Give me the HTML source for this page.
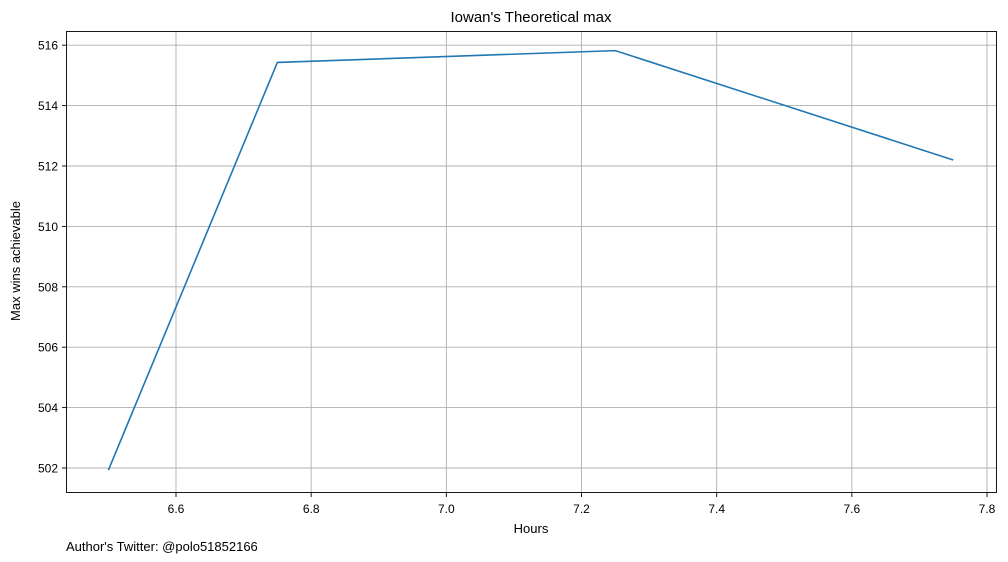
<!DOCTYPE html>
<html><head><meta charset="utf-8"><style>
body{margin:0;background:#fff;}
svg{display:block;font-family:"Liberation Sans","DejaVu Sans",sans-serif;}
</style></head><body>
<svg id="chart" width="1008" height="562" viewBox="0 0 1008 562" xmlns="http://www.w3.org/2000/svg">
<rect width="1008" height="562" fill="#fff"/>
<text x="531" y="22" font-size="15" text-anchor="middle">Iowan's Theoretical max</text>
<g id="grid"></g>
<g id="ticks"></g>
<polyline id="line" fill="none" stroke="#1f77b4" stroke-width="1.6"/>
<rect x="66.5" y="31.5" width="930" height="461" fill="none" stroke="#000" stroke-width="0.9"/>
<text x="531" y="533" font-size="13" text-anchor="middle">Hours</text>
<text transform="translate(20,261) rotate(-90)" font-size="13" text-anchor="middle">Max wins achievable</text>
<text x="66" y="551" font-size="13">Author's Twitter: @polo51852166</text>
</svg>
<script>
const hours=[6.5,6.75,7.25,7.75];
const wins=[501.93,515.43,515.82,512.2];
const xTicks=[6.6,6.8,7.0,7.2,7.4,7.6,7.8];
const yTicks=[502,504,506,508,510,512,514,516];
const X=v=>176+(v-6.6)/0.2*135.17;
const Y=v=>468-(v-502)*30.2;
const ns="http://www.w3.org/2000/svg";
const grid=document.getElementById('grid'),ticks=document.getElementById('ticks');
function mk(t,a,p){const e=document.createElementNS(ns,t);for(const k in a)e.setAttribute(k,a[k]);p.appendChild(e);return e;}
xTicks.forEach(v=>{const x=X(v);
 const g=mk('line',{x1:x,x2:x,y1:31.5,y2:492.5,stroke:'#b0b0b0','stroke-width':0.9},grid);
 
 
 mk('line',{x1:x,x2:x,y1:492.5,y2:497,stroke:'#000','stroke-width':0.9},ticks);
 const t=mk('text',{x:x,y:513,'font-size':12,'text-anchor':'middle'},ticks);t.textContent=v.toFixed(1);
 
 
});
yTicks.forEach(v=>{const y=Y(v);
 const g=mk('line',{x1:66.5,x2:996.5,y1:y,y2:y,stroke:'#b0b0b0','stroke-width':0.9},grid);
 
 
 mk('line',{x1:62,x2:66.5,y1:y,y2:y,stroke:'#000','stroke-width':0.9},ticks);
 const t=mk('text',{x:58,y:y+4.5,'font-size':12,'text-anchor':'end'},ticks);t.textContent=v;
 
 
});
document.getElementById('line').setAttribute('points',hours.map((h,i)=>X(h)+','+Y(wins[i])).join(' '));
</script>
</body></html>
